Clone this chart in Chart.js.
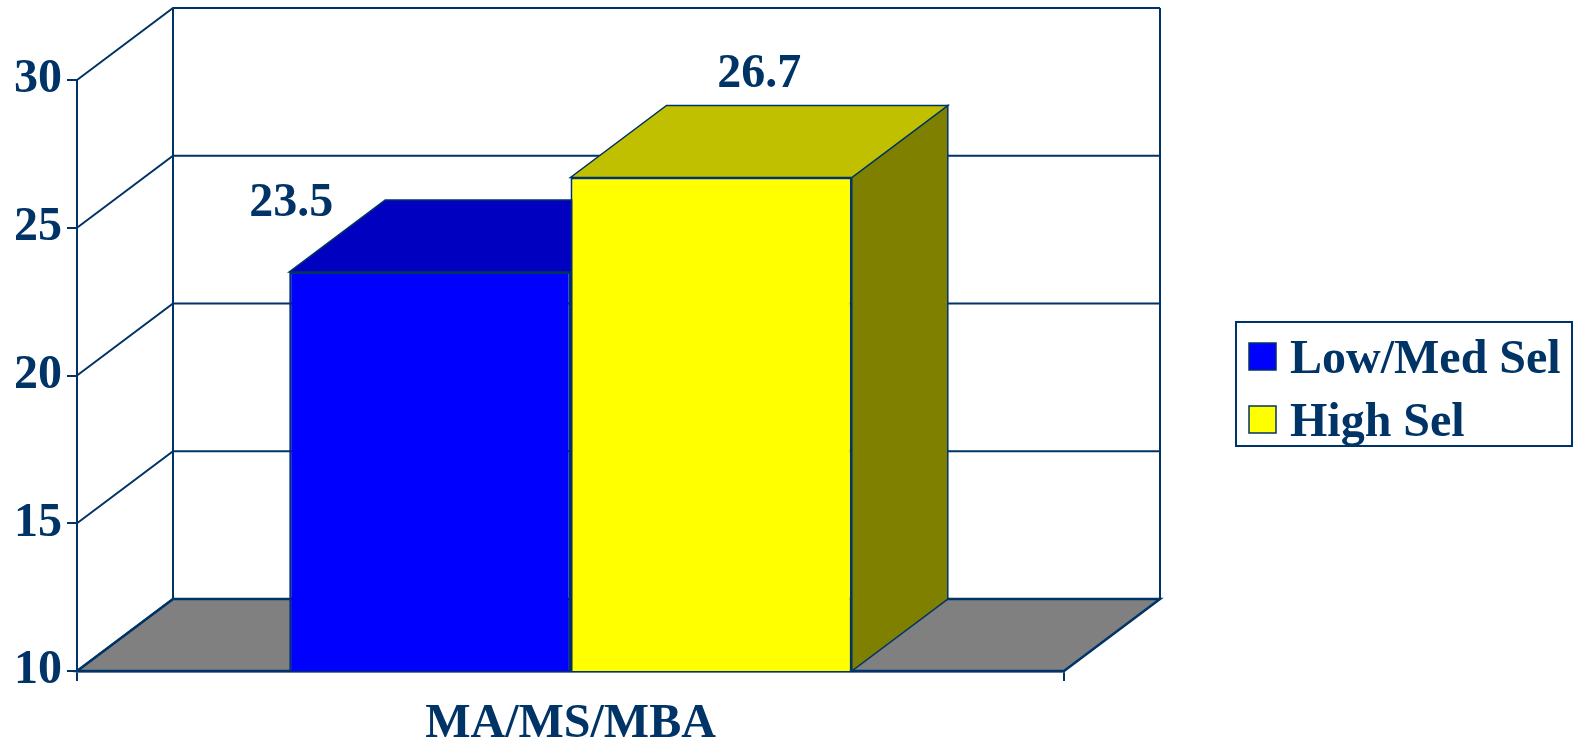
<!DOCTYPE html>
<html>
<head>
<meta charset="utf-8">
<script src="https://cdn.jsdelivr.net/npm/chart.js@4.4.1/dist/chart.umd.min.js"></script>
<style>
  html, body { margin: 0; padding: 0; background: #fff; }
  #wrap { width: 1577px; height: 739px; }
</style>
</head>
<body>
<div id="wrap"><canvas id="myChart"></canvas></div>
<script>
// data
const categories = ['MA/MS/MBA'];
const seriesNames = ['Low/Med Sel', 'High Sel'];
const lowMedValues = [23.5];
const highSelValues = [26.7];
const yTicks = [10, 15, 20, 25, 30];

// styles
const navy = '#003366';
const frontColors = ['#0000ff', '#ffff00'];
const topColors = ['#0000c0', '#c0c000'];
const sideColors = ['#000080', '#808000'];
const depthX = 96, depthY = -72;
const serif = "'Liberation Serif', 'Times New Roman', serif";
const bigFont = { family: serif, size: 48, weight: 'bold' };

function poly(ctx, pts, fill) {
    ctx.beginPath()
    ctx.moveTo(pts[0][0], pts[0][1])
    for (let i = 1; i < pts.length; i++) ctx.lineTo(pts[i][0], pts[i][1])
    ctx.closePath()
    ctx.fillStyle = fill
    ctx.fill()
    ctx.stroke()
}

// walls, floor and the top/side faces of the bars
const threeD = {
    id: 'threeD',
    beforeDatasetsDraw(chart) {
        const ctx = chart.ctx
        const xs = chart.scales.x, ys = chart.scales.y
        const L = xs.left, R = xs.right, B = ys.bottom, T = ys.top
        ctx.save()
        ctx.strokeStyle = navy
        ctx.lineWidth = 2.5
        poly(ctx, [[L, B], [R, B], [R + depthX, B + depthY], [L + depthX, B + depthY]], '#808080')

        ctx.lineWidth = 2
        yTicks.forEach(v => {
            const py = ys.getPixelForValue(v)
            ctx.beginPath()
            ctx.moveTo(L, py)
            ctx.lineTo(L + depthX, py + depthY)
            ctx.lineTo(R + depthX, py + depthY)
            ctx.stroke()
        })
        ctx.beginPath()
        ctx.moveTo(L + depthX, T + depthY); ctx.lineTo(L + depthX, B + depthY)
        ctx.moveTo(R + depthX, T + depthY); ctx.lineTo(R + depthX, B + depthY)
        ctx.stroke()

        ctx.lineWidth = 1.5
        chart.data.datasets.forEach((ds, i) => {
            chart.getDatasetMeta(i).data.forEach(bar => {
                const p = bar.getProps(['x', 'y', 'width'], true)
                const base = B
                const l = p.x - p.width / 2, r = p.x + p.width / 2
                poly(ctx, [[r, p.y], [r + depthX, p.y + depthY], [r + depthX, base + depthY], [r, base]], sideColors[i])
                poly(ctx, [[l, p.y], [r, p.y], [r + depthX, p.y + depthY], [l + depthX, p.y + depthY]], topColors[i])
            })
        })
        ctx.restore()
    },
    afterDatasetsDraw(chart) {
        const ctx = chart.ctx
        ctx.save()
        ctx.fillStyle = navy
        ctx.font = 'bold 48px ' + serif
        ctx.textAlign = 'center'
        ctx.textBaseline = 'alphabetic'
        chart.data.datasets.forEach((ds, i) => {
            chart.getDatasetMeta(i).data.forEach((bar, j) => {
                const p = bar.getProps(['x', 'y', 'width'], true)
                const backTop = p.y + depthY
                let tx, ty
                if (i === 0) {
                    tx = p.x - p.width / 2 + 2
                    ty = backTop + 16
                } else {
                    tx = p.x + depthX / 2
                    ty = backTop - 19
                }
                ctx.fillText(String(ds.data[j]), tx, ty)
            })
        })
        ctx.restore()
    },
    afterDraw(chart) {
        // legend box
        const ctx = chart.ctx
        ctx.save()
        ctx.strokeStyle = navy
        ctx.lineWidth = 2
        ctx.strokeRect(1236, 322, 336, 124)
        ctx.font = 'bold 48px ' + serif
        ctx.textBaseline = 'alphabetic'
        ctx.textAlign = 'left'
        chart.data.datasets.forEach((ds, i) => {
            const cy = 356.5 + i * 63
            ctx.fillStyle = ds.backgroundColor
            ctx.fillRect(1249, cy - 13.5, 27, 27)
            ctx.lineWidth = 1.5
            ctx.strokeRect(1249, cy - 13.5, 27, 27)
            ctx.fillStyle = navy
            ctx.fillText(ds.label, 1290, cy + 16)
        })
        ctx.restore()
    }
}

const ctx = document.getElementById('myChart')

const myChart = new Chart(ctx, {
    type: 'bar',
    data: {
        labels: categories,
        datasets: [{
            label: seriesNames[0],
            data: lowMedValues,
            backgroundColor: frontColors[0],
            borderColor: navy,
            borderWidth: 2
        }, {
            label: seriesNames[1],
            data: highSelValues,
            backgroundColor: frontColors[1],
            borderColor: navy,
            borderWidth: 2
        }]
    },
    options: {
        responsive: true,
        maintainAspectRatio: false,
        animation: false,
        categoryPercentage: 0.57,
        barPercentage: 1.0,
        layout: { padding: { left: 0, top: 80, right: 513, bottom: 0 } },
        plugins: {
            legend: { display: false },
            tooltip: { enabled: false }
        },
        scales: {
            x: {
                grid: { drawOnChartArea: false, drawTicks: true, tickLength: 10, color: navy, lineWidth: 2 },
                border: { display: true, color: navy, width: 2.5 },
                ticks: { font: bigFont, color: navy, padding: 15 },
                afterFit: s => { s.height = 68 }
            },
            y: {
                min: yTicks[0],
                max: yTicks[yTicks.length - 1],
                afterBuildTicks: s => { s.ticks = yTicks.map(v => ({ value: v })) },
                grid: { drawOnChartArea: false, drawTicks: true, tickLength: 10, color: navy, lineWidth: 2 },
                border: { display: true, color: navy, width: 2 },
                ticks: { font: bigFont, color: navy, padding: 5 },
                afterFit: s => { s.width = 77 }
            }
        }
    },
    plugins: [threeD]
})
</script>
</body>
</html>
